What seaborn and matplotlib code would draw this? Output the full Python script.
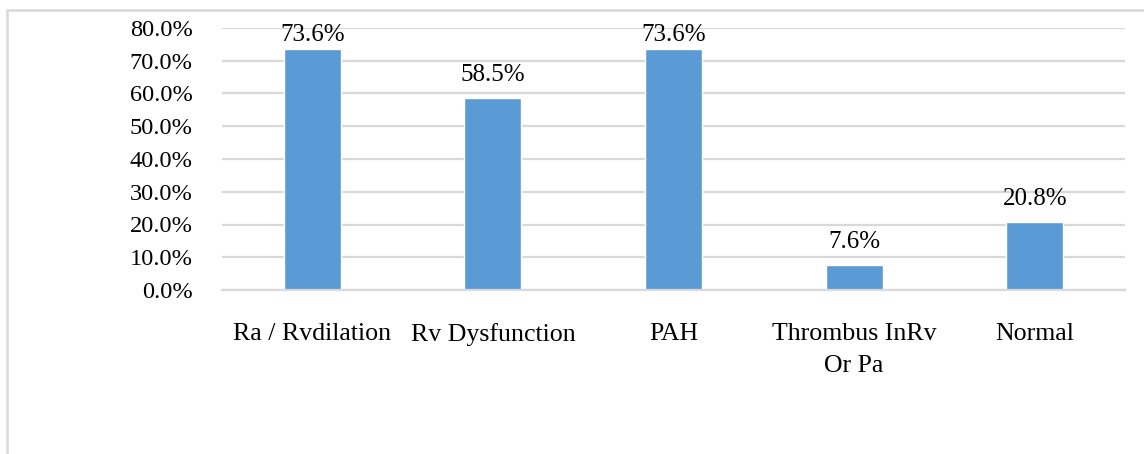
import matplotlib
matplotlib.use("Agg")
import matplotlib.pyplot as plt
import seaborn as sns
import pandas as pd
from matplotlib.patches import Rectangle

categories = ["Ra / Rvdilation", "Rv Dysfunction", "PAH", "Thrombus InRv\nOr Pa", "Normal"]
values = [73.6, 58.5, 73.6, 7.6, 20.8]
y_ticks = [0, 10, 20, 30, 40, 50, 60, 70, 80]

df = pd.DataFrame({"category": categories, "value": values})

sns.set_theme(style="white")
plt.rcParams["font.family"] = ["Liberation Serif", "DejaVu Serif"]

W, H = 1144, 454
fig = plt.figure(figsize=(W / 100, H / 100), dpi=100)
ax = fig.add_axes([222 / W, 1 - 290 / H, (1125 - 222) / W, (290 - 28) / H])

sns.barplot(data=df, x="category", y="value", color="#5B9BD5", width=0.316,
            saturation=1, ax=ax, zorder=3)

ymax = 80
ax.set_ylim(0, ymax)
ax.set_xlim(-0.5, len(categories) - 0.5)
ax.set_yticks(y_ticks)
ax.set_yticklabels([f"{t:.1f}%" for t in y_ticks], fontsize=17.6, color="black")
ax.tick_params(axis="x", labelsize=18.6, colors="black", pad=23.5, length=0)
ax.tick_params(axis="y", pad=21, length=0)
ax.set_xlabel("")
ax.set_ylabel("")
for lbl in ax.get_xticklabels():
    lbl.set_linespacing(1.62)

ax.yaxis.grid(True, color="#D9D9D9", linewidth=1.6, zorder=0)
for s in ["top", "right", "left"]:
    ax.spines[s].set_visible(False)
ax.spines["bottom"].set_color("#D9D9D9")
ax.spines["bottom"].set_linewidth(1.6)
ax.spines["bottom"].set_zorder(4)

# value labels above bars, pulled closer when a bar nearly reaches the top
px_per_unit = (290 - 28) / ymax
for i, v in enumerate(values):
    room = (ymax - v) * px_per_unit
    offset = min(12, room - 18)
    ax.annotate(f"{v:.1f}%", (i, v), xytext=(0, offset), textcoords="offset pixels",
                ha="center", va="bottom", fontsize=18, color="black", zorder=5,
                annotation_clip=False)

# chart area frame
fig.patches.append(Rectangle((7 / W, -0.1), 1.2, 1 - 10 / H + 0.1,
                             transform=fig.transFigure, fill=False,
                             edgecolor="#D9D9D9", linewidth=1.8))

fig.savefig("out.png", dpi=100)
